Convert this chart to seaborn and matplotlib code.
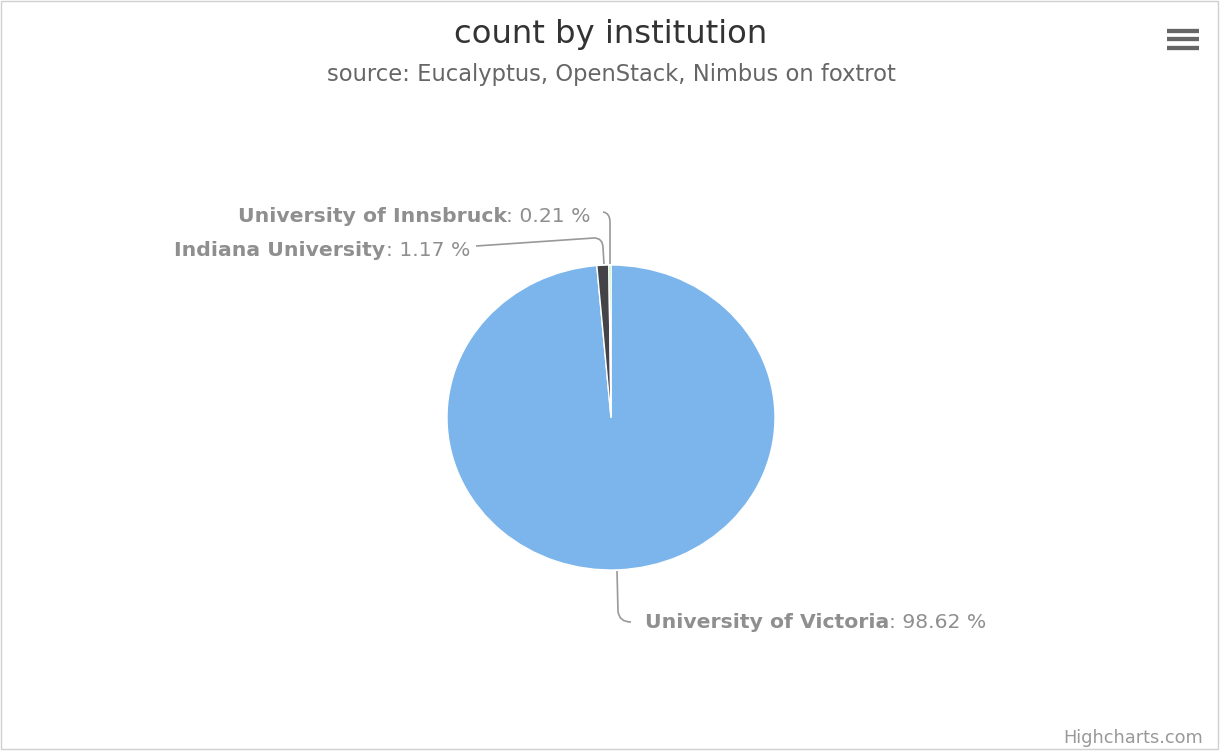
import numpy as np
import matplotlib
matplotlib.use("Agg")
import matplotlib.pyplot as plt
from matplotlib.path import Path
from matplotlib.patches import PathPatch, Rectangle
import seaborn as sns

# data
institutions = ["University of Victoria", "Indiana University", "University of Innsbruck"]
shares = [98.62, 1.17, 0.21]
colors = ["#7cb5ec", "#434348", "#90ed7d"]

title = "count by institution"
subtitle = "source: Eucalyptus, OpenStack, Nimbus on foxtrot"

sns.set_theme(style="white")
plt.rcParams["font.family"] = ["DejaVu Sans"]

W, H = 1221, 751
fig = plt.figure(figsize=(W / 100, H / 100), dpi=100)

# background axes in pixel coordinates (y down)
bg = fig.add_axes([0, 0, 1, 1])
bg.set_xlim(0, W)
bg.set_ylim(H, 0)
bg.axis("off")

bg.add_patch(Rectangle((1, 1), W - 4, H - 3, fill=False, edgecolor="#d0d0d0", linewidth=1))

bg.text(611, 35, title, ha="center", va="center", fontsize=23.2, color="#333333")
bg.text(611, 75, subtitle, ha="center", va="center", fontsize=16.3, color="#666666")
bg.text(1203, 738, "Highcharts.com", ha="right", va="center", fontsize=12.8, color="#999999")

# export menu icon
for yy in (30.5, 39, 48):
    bg.plot([1167, 1199], [yy, yy], color="#666666", linewidth=3.1, solid_capstyle="butt")

# pie in its own axes, slightly stretched like the reference
left, right, top, bottom = 447, 775, 265, 570
pie_ax = fig.add_axes([left / W, 1 - bottom / H, (right - left) / W, (bottom - top) / H])
pie_ax.pie(
    shares,
    colors=colors,
    startangle=90,
    counterclock=False,
    radius=1,
    wedgeprops=dict(edgecolor="white", linewidth=1.0),
)
pie_ax.set_aspect("auto")
pie_ax.set_xlim(-1, 1)
pie_ax.set_ylim(-1, 1)
pie_ax.axis("off")

# connectors
label_color = "#8f8f8f"
conn_color = "#999999"


def connector(points):
    verts = [points[0], points[1], points[2], points[3]]
    codes = [Path.MOVETO, Path.LINETO, Path.CURVE3, Path.CURVE3]
    if len(points) > 4:
        verts.append(points[4])
        codes.append(Path.LINETO)
    bg.add_patch(PathPatch(Path(verts, codes), fill=False, edgecolor=conn_color, linewidth=1.2))


# Victoria
connector([(617, 571), (618, 611), (619, 622), (631, 622)])
# Indiana
connector([(604, 264), (603, 248), (603, 238), (594, 238), (476, 246)])
# Innsbruck
connector([(610, 264), (610, 222), (610, 213), (603, 212)])

fs = 14.7
label_pos = {
    "University of Victoria": (645, 623, "left"),
    "Indiana University": (470, 250, "right"),
    "University of Innsbruck": (591, 216, "right"),
}

for name, val in zip(institutions, shares):
    x, y, side = label_pos[name]
    value = f": {val:.2f} %"
    if side == "left":
        t = bg.text(x, y, name, ha="left", va="center", fontsize=fs,
                    fontweight="bold", color=label_color)
        bg.annotate(value, xy=(1, 0.5), xycoords=t, ha="left", va="center",
                    fontsize=fs, color=label_color)
    else:
        t = bg.text(x, y, value, ha="right", va="center", fontsize=fs, color=label_color)
        bg.annotate(name, xy=(0, 0.5), xycoords=t, ha="right", va="center",
                    fontsize=fs, fontweight="bold", color=label_color)

fig.savefig("out.png", dpi=100)
